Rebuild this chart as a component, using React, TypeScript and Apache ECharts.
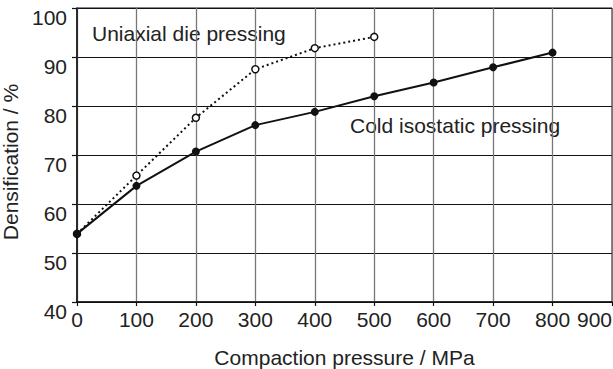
import React, { useEffect, useRef } from "react";
import * as echarts from "echarts";

const pressures = [0, 100, 200, 300, 400, 500, 600, 700, 800];
const coldIsostatic = [53.9, 63.7, 70.7, 76.1, 78.8, 82.0, 84.8, 87.9, 90.9];
const uniaxialPressures = [0, 100, 200, 300, 400, 500];
const uniaxialDie = [53.9, 65.8, 77.6, 87.5, 91.8, 94.1];

const FONT = "'Liberation Sans', Arial, sans-serif";

export default function App() {
  const ref = useRef<HTMLDivElement>(null);
  useEffect(() => {
    if (!ref.current) return;
    const chart = echarts.init(ref.current, null, { renderer: "svg" });
    chart.setOption({
      animation: false,
      backgroundColor: "#ffffff",
      textStyle: { fontFamily: FONT },
      grid: {
        left: 77,
        right: 1,
        top: 8,
        bottom: 67,
        containLabel: false,
        outerBoundsMode: "none",
        show: true,
        borderColor: "#111",
        borderWidth: 1,
      },
      xAxis: {
        type: "value",
        min: 0,
        max: 900,
        interval: 100,
        name: "Compaction pressure / MPa",
        nameLocation: "middle",
        nameGap: 45,
        nameTextStyle: { fontSize: 21, color: "#222", fontFamily: FONT },
        axisLine: { show: true, lineStyle: { color: "#111", width: 1.5 } },
        axisTick: { show: true, length: 4, lineStyle: { color: "#111", width: 1.2 } },
        axisLabel: {
          fontSize: 21,
          color: "#222",
          margin: 7,
          fontFamily: FONT,
          alignMaxLabel: "right",
        },
        splitLine: { show: true, lineStyle: { color: "#777", width: 1.3 } },
      },
      yAxis: {
        type: "value",
        min: 40,
        max: 100,
        interval: 10,
        name: "Densification / %",
        nameLocation: "middle",
        nameRotate: 90,
        nameGap: 55,
        nameTextStyle: { fontSize: 21, color: "#222", fontFamily: FONT, padding: [0, 14, 0, 0] },
        axisLine: { show: true, lineStyle: { color: "#111", width: 1.5 } },
        axisTick: { show: true, length: 5, lineStyle: { color: "#111", width: 1.2 } },
        axisLabel: {
          fontSize: 21,
          color: "#222",
          margin: 10,
          fontFamily: FONT,
          verticalAlign: "top",
          lineHeight: 18,
        },
        splitLine: { show: true, lineStyle: { color: "#111", width: 1 } },
      },
      series: [
        {
          name: "Uniaxial die pressing",
          type: "line",
          data: uniaxialPressures.map((p, i) => [p, uniaxialDie[i]]),
          symbol: "circle",
          symbolSize: 7,
          lineStyle: { color: "#111", width: 2, type: [2, 3] },
          itemStyle: { color: "#fff", borderColor: "#111", borderWidth: 1.5 },
          z: 3,
        },
        {
          name: "Cold isostatic pressing",
          type: "line",
          data: pressures.map((p, i) => [p, coldIsostatic[i]]),
          symbol: "circle",
          symbolSize: 8,
          lineStyle: { color: "#111", width: 2 },
          itemStyle: { color: "#111", borderColor: "#111", borderWidth: 0 },
          z: 4,
        },
      ],
      graphic: [
        {
          type: "text",
          left: 92,
          top: 23,
          style: {
            text: "Uniaxial die pressing",
            fontSize: 21,
            fill: "#222",
            fontFamily: FONT,
          },
        },
        {
          type: "text",
          left: 350,
          top: 115,
          style: {
            text: "Cold isostatic pressing",
            fontSize: 21,
            fill: "#222",
            fontFamily: FONT,
          },
        },
      ],
    });
    return () => chart.dispose();
  }, []);
  return (
    <div
      ref={ref}
      style={{ position: "fixed", left: 0, top: 0, width: 613, height: 369 }}
    />
  );
}
